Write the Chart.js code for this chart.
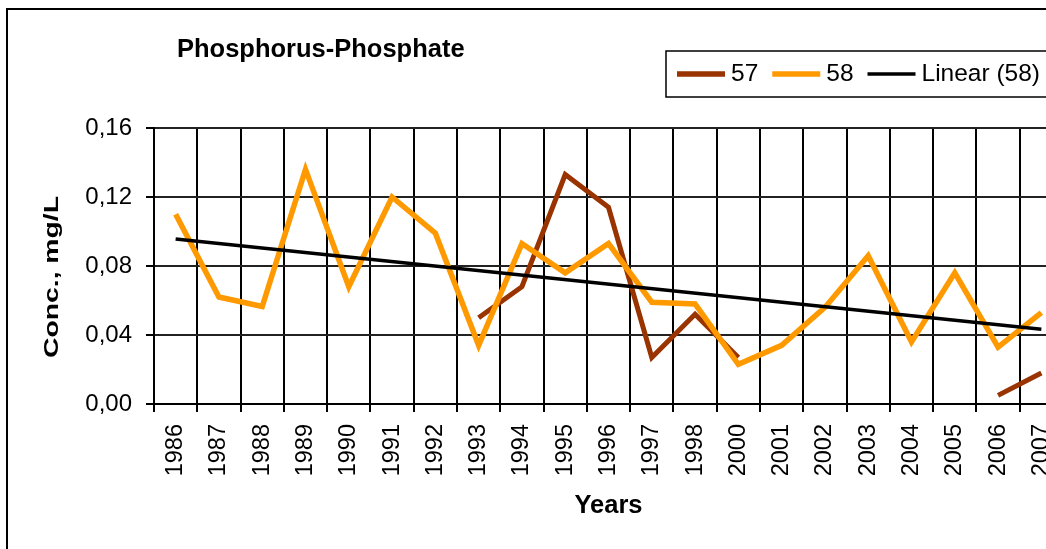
<!DOCTYPE html>
<html>
<head>
<meta charset="utf-8">
<script src="https://cdn.jsdelivr.net/npm/chart.js@4/dist/chart.umd.min.js"></script>
<style>
  html, body { margin: 0; padding: 0; overflow: hidden; background: #fff; width: 1046px; height: 549px; }
  #wrap { position: absolute; left: 0; top: 0; width: 1100px; height: 560px; }
</style>
</head>
<body>
<div id="wrap"><canvas id="c" width="1100" height="560"></canvas></div>
<script>
// ---- data ----
const years = ['1986','1987','1988','1989','1990','1991','1992','1993','1994','1995','1996',
               '1997','1998','2000','2001','2002','2003','2004','2005','2006','2007'];
const series57 = [null, null, null, null, null, null, null, 0.050, 0.068, 0.133, 0.114,
                  0.027, 0.052, 0.027, null, null, null, null, null, 0.005, 0.018];
const series58 = [0.110, 0.062, 0.0565, 0.136, 0.068, 0.120, 0.099, 0.034, 0.093, 0.076, 0.093,
                  0.059, 0.058, 0.023, 0.034, 0.056, 0.086, 0.036, 0.076, 0.033, 0.053];
// Linear trend of 58: end points
const trend58 = [0.0956, null, null, null, null, null, null, null, null, null, null,
                 null, null, null, null, null, null, null, null, null, 0.0433];
const seriesNames = ['57', '58', 'Linear (58)'];
const yTickLabels = ['0,00', '0,04', '0,08', '0,12', '0,16'];
const yStep = 0.04;
const chartTitle = 'Phosphorus-Phosphate';
const xTitle = 'Years';
const yTitle = 'Conc., mg/L';

const FONT = '"Liberation Sans", Arial, Helvetica, sans-serif';
Chart.defaults.font.family = FONT;
Chart.defaults.color = '#000';

const decor = {
  id: 'decor',
  beforeDraw(chart) {
    const ctx = chart.ctx;
    ctx.save();
    ctx.fillStyle = '#fff';
    ctx.fillRect(0, 0, chart.width, chart.height);
    ctx.restore();
  },
  afterDraw(chart) {
    const ctx = chart.ctx;
    ctx.save();
    // outer chart border
    ctx.strokeStyle = '#000';
    ctx.lineWidth = 2;
    ctx.strokeRect(7, 9, 1300, 800);
    // title
    ctx.fillStyle = '#000';
    ctx.font = 'bold 25.5px ' + FONT;
    ctx.textAlign = 'left';
    ctx.textBaseline = 'alphabetic';
    ctx.fillText(chartTitle, 177, 57);
    // y axis title (rotated, stretched along text like the reference)
    ctx.save();
    ctx.font = 'bold 21px ' + FONT;
    const w = ctx.measureText(yTitle).width;
    ctx.translate(58, 277);
    ctx.rotate(-Math.PI / 2);
    ctx.scale(162 / w, 1);
    ctx.textAlign = 'center';
    ctx.fillText(yTitle, 0, 0);
    ctx.restore();
    // legend
    ctx.strokeStyle = '#000';
    ctx.lineWidth = 1.5;
    ctx.strokeRect(666, 51, 500, 46);
    ctx.font = '24.5px ' + FONT;
    ctx.textBaseline = 'middle';
    ctx.textAlign = 'left';
    const cy = 74;
    let x = 677;
    const legendWidths = [5.5, 5.5, 3.5];
    chart.data.datasets.forEach((ds, i) => {
      ctx.strokeStyle = ds.borderColor;
      ctx.lineWidth = legendWidths[i];
      ctx.lineCap = 'butt';
      ctx.beginPath();
      ctx.moveTo(x, cy);
      ctx.lineTo(x + 48, cy);
      ctx.stroke();
      x += 54;
      ctx.fillStyle = '#000';
      ctx.fillText(ds.label, x, cy);
      x += ctx.measureText(ds.label).width + 14;
    });
    ctx.restore();
  }
};

new Chart(document.getElementById('c'), {
  type: 'line',
  data: {
    labels: years,
    datasets: [
      { label: seriesNames[0], data: series57, borderColor: '#993300', borderWidth: 5,
        pointRadius: 0, spanGaps: false, tension: 0, order: 3, borderJoinStyle: 'miter' },
      { label: seriesNames[1], data: series58, borderColor: '#FF9900', borderWidth: 5.5,
        pointRadius: 0, spanGaps: false, tension: 0, order: 2, borderJoinStyle: 'miter' },
      { label: seriesNames[2], data: trend58, borderColor: '#000000', borderWidth: 3.5,
        pointRadius: 0, spanGaps: true, tension: 0, order: 1 }
    ]
  },
  options: {
    responsive: false,
    animation: false,
    events: [],
    layout: { padding: { left: 0, top: 128, right: 37, bottom: 39 } },
    plugins: {
      legend: { display: false },
      title: { display: false },
      tooltip: { enabled: false }
    },
    scales: {
      x: {
        type: 'category',
        offset: true,
        grid: { display: true, offset: true, color: '#000', lineWidth: 2, tickLength: 8,
                tickColor: '#000', tickWidth: 2, drawTicks: true },
        border: { display: true, color: '#000', width: 2 },
        ticks: { autoSkip: false, minRotation: 90, maxRotation: 90, padding: 12,
                 color: '#000', font: { size: 23.5 } },
        title: { display: true, text: xTitle, color: '#000',
                 font: { size: 25.5, weight: 'bold' }, padding: { top: 0, bottom: 0 } },
        afterFit(scale) { scale.height = 117; }
      },
      y: {
        min: 0, max: 0.16,
        ticks: { stepSize: yStep, padding: 14, color: '#000', font: { size: 24 },
                 callback: (v) => yTickLabels[Math.round(v / yStep)] },
        grid: { color: '#222', lineWidth: 2, tickLength: 8, tickColor: '#000', tickWidth: 2 },
        border: { display: true, color: '#000', width: 2 },
        afterFit(scale) { scale.width = 154; }
      }
    }
  },
  plugins: [decor]
});
</script>
</body>
</html>
